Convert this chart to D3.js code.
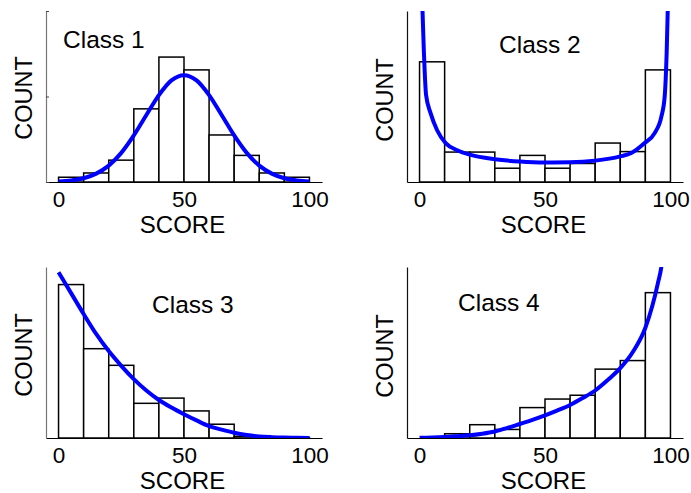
<!DOCTYPE html>
<html>
<head>
<meta charset="utf-8">
<script src="https://cdn.jsdelivr.net/npm/d3@7"></script>
<style>
  html, body { margin: 0; padding: 0; background: #fff; }
  svg { display: block; }
  text { font-family: "Liberation Sans", Arial, sans-serif; fill: #000; }
</style>
</head>
<body>
<svg id="chart" width="691" height="493"></svg>
<script>
// ---------- data ----------
const binEdges = [0, 10, 20, 30, 40, 50, 60, 70, 80, 90, 100];
const xTickValues = [0, 50, 100];
const classNames = ["Class 1", "Class 2", "Class 3", "Class 4"];
const xLabel = "SCORE";
const yLabel = "COUNT";

// histogram counts per 10-point bin
const class1Counts = [1.0, 1.9, 4.6, 15.4, 26.3, 23.6, 9.9, 5.6, 1.9, 1.0];
const class2Counts = [25.3, 6.3, 6.3, 2.9, 5.6, 2.9, 3.9, 8.2, 6.4, 23.6];
const class3Counts = [32.3, 18.8, 15.3, 7.3, 8.4, 5.7, 2.9, 0.35, 0, 0.1];
const class4Counts = [0, 0.9, 2.8, 1.8, 6.4, 8.2, 9.0, 14.5, 16.3, 30.6];

// fitted density curves, [score, count]
const class1Fit = [[0,0.13],[5,0.34],[10,0.8],[15,1.77],[20,3.45],[25,6.13],[30,9.81],[35,14.1],[40,18.3],[45,21.4],[50,22.5],
  [55,21.4],[60,18.3],[65,14.1],[70,9.81],[75,6.13],[80,3.45],[85,1.77],[90,0.8],[95,0.34],[100,0.13]];
const class2Fit = [[0.8,42.1],[1.7,27.8],[2.6,18.3],[4.4,14.5],[7,10.9],[10.4,8.2],[15,6.7],[20.4,5.7],[30,4.8],[40,4.3],[50,4.1],
  [60,4.15],[70,4.5],[80,5.4],[84.4,6.1],[89.7,8.2],[93.7,10.3],[96.4,13.8],[97.7,18.0],[98.5,27.4],[99.2,42.1]];
const class3Fit = [[0,34.9],[5,30.5],[10,26.1],[15,21.9],[20,18.3],[25,15.2],[30,12.4],[35,10.0],[40,8.0],[45,6.4],[50,5.0],
  [55,3.7],[60,2.5],[65,1.75],[70,1.1],[75,0.63],[80,0.32],[85,0.17],[90,0.08],[95,0.04],[100,0.02]];
const class4Fit = [[0,0.04],[5,0.1],[10,0.21],[15,0.38],[20,0.57],[25,0.9],[30,1.37],[35,2.1],[40,2.95],[45,3.8],[50,4.74],
  [55,5.8],[60,6.95],[65,8.4],[70,10.0],[75,12.2],[80,14.7],[85,18.1],[90,23.2],[95,32.6],[96.5,36.5],[98,45]];

const yMax = 36;
const xDomain = [-5, 105];

// ---------- layout ----------
const panels = [
  { counts: class1Counts, fit: class1Fit, name: classNames[0], left: 46,  top: 11,  yTicks: true,  yAxisColor: "#777",
    nameX: 63,  nameY: 48,  countY: 98 },
  { counts: class2Counts, fit: class2Fit, name: classNames[1], left: 407, top: 11,  yTicks: false, yAxisColor: "#111",
    nameX: 499, nameY: 53,  countY: 100 },
  { counts: class3Counts, fit: class3Fit, name: classNames[2], left: 46,  top: 267, yTicks: false, yAxisColor: "#777",
    nameX: 152, nameY: 312.5, countY: 355 },
  { counts: class4Counts, fit: class4Fit, name: classNames[3], left: 407, top: 267, yTicks: false, yAxisColor: "#111",
    nameX: 458, nameY: 311, countY: 356 }
];
const W = 276, H = 171;

const svg = d3.select("#chart");
const defs = svg.append("defs");

panels.forEach((p, i) => {
  const x = d3.scaleLinear().domain(xDomain).range([p.left, p.left + W]);
  const y = d3.scaleLinear().domain([0, yMax]).range([p.top + H, p.top]);
  const g = svg.append("g");

  const clipId = "clip" + i;
  defs.append("clipPath").attr("id", clipId)
    .append("rect").attr("x", p.left).attr("y", p.top).attr("width", W).attr("height", H);

  const bins = p.counts.map((c, k) => ({ x0: binEdges[k], x1: binEdges[k + 1], c }));

  // bars
  g.append("g").attr("clip-path", `url(#${clipId})`)
    .selectAll("rect").data(bins.filter(b => b.c > 0)).join("rect")
    .attr("x", b => x(b.x0))
    .attr("y", b => y(b.c))
    .attr("width", b => x(b.x1) - x(b.x0))
    .attr("height", b => y(0) - y(b.c))
    .attr("fill", "#fff")
    .attr("stroke", "#000")
    .attr("stroke-width", 1.5);

  // fitted curve
  g.append("path")
    .datum(p.fit)
    .attr("clip-path", `url(#${clipId})`)
    .attr("fill", "none")
    .attr("stroke", "#0000ff")
    .attr("stroke-width", 4)
    .attr("stroke-linejoin", "round")
    .attr("d", d3.line().x(d => x(d[0])).y(d => y(d[1])).curve(d3.curveMonotoneX));

  // x axis
  const xa = g.append("g")
    .attr("transform", `translate(0,${y(0)})`)
    .call(d3.axisBottom(x).tickValues(xTickValues).tickSizeInner(0).tickSizeOuter(0).tickPadding(9.5));
  xa.select(".domain").attr("stroke", "#000").attr("stroke-width", 1.2);
  xa.selectAll("text").style("font-size", "22.5px").attr("fill", "#000")
    .style("font-family", "'Liberation Sans', Arial, sans-serif");

  // y axis
  const ya = g.append("g")
    .attr("transform", `translate(${x(xDomain[0])},0)`)
    .call(d3.axisRight(y).tickValues(p.yTicks ? [0, yMax / 2, yMax] : []).tickSizeInner(3).tickSizeOuter(0).tickFormat(""));
  ya.select(".domain").attr("stroke", p.yAxisColor).attr("stroke-width", 1.2);
  ya.selectAll(".tick line").attr("stroke", "#444");

  // labels
  g.append("text").attr("x", p.nameX).attr("y", p.nameY)
    .style("font-size", "24.5px").text(p.name);
  g.append("text")
    .attr("transform", `translate(${p.left - 14.5},${p.countY}) rotate(-90)`)
    .attr("text-anchor", "middle")
    .style("font-size", "23.5px").text(yLabel);
  g.append("text")
    .attr("x", x(50) - 1.5).attr("y", y(0) + 51)
    .attr("text-anchor", "middle")
    .style("font-size", "24px").text(xLabel);
});
</script>
</body>
</html>
